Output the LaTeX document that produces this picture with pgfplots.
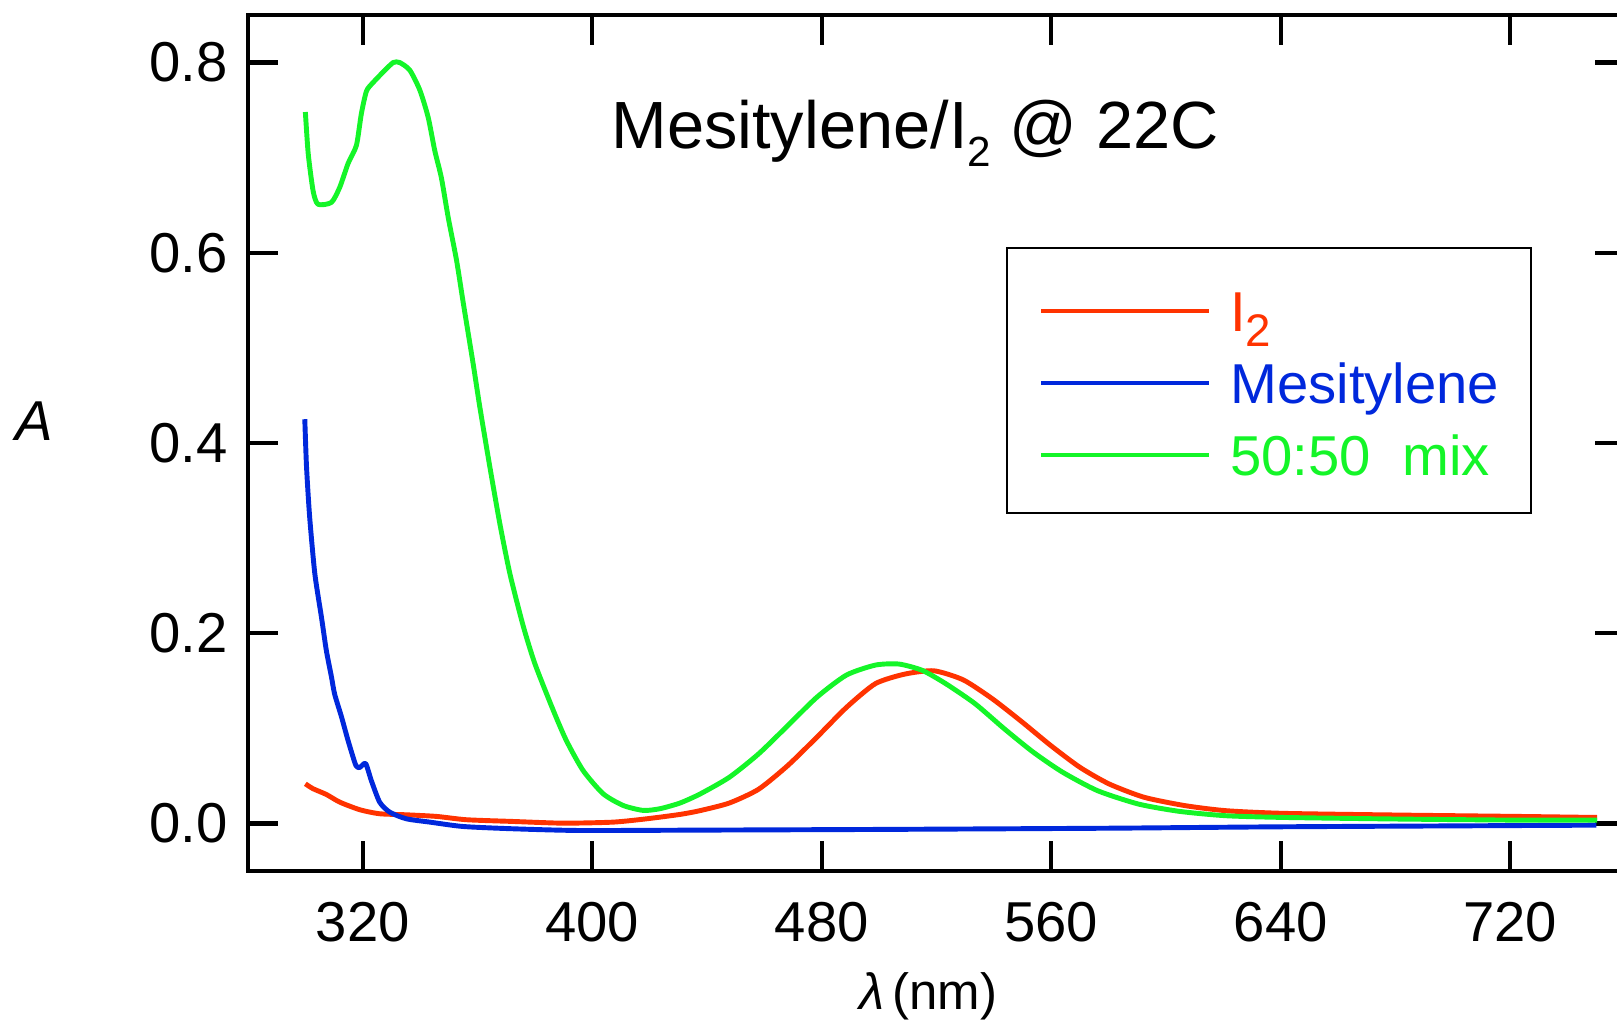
\documentclass[border=0pt]{standalone}
\usepackage{fontspec}
\setmainfont{Liberation Sans}
\usepackage{pgfplots}
\pgfplotsset{compat=1.18}

\definecolor{cI}{RGB}{255,51,0}
\definecolor{cM}{RGB}{0,40,220}
\definecolor{cX}{RGB}{20,245,40}

\begin{document}
\begin{tikzpicture}
\useasboundingbox (-2.48,-1.53) rectangle (13.69,8.71);
\begin{axis}[
    at={(0,0)}, anchor=south west,
    scale only axis, width=13.77cm, height=8.56cm,
    xmin=280, xmax=760, ymin=-0.05, ymax=0.85,
    xtick={320,400,480,560,640,720},
    ytick={0,0.2,0.4,0.6,0.8},
    tick align=inside, tick pos=both,
    major tick length=0.3cm,
    axis line style={line width=1.2pt},
    major tick style={line width=1.2pt, black},
    tick label style={font=\fontsize{16}{19}\selectfont},
    /pgf/number format/assume math mode=true,
    y tick label style={/pgf/number format/fixed, /pgf/number format/fixed zerofill,
        /pgf/number format/precision=1, xshift=-0.08cm},
    x tick label style={yshift=-0.19cm},
    xlabel={{\itshape λ}\,(nm)},
    every axis x label/.style={at={(axis description cs:0.494,0)}, anchor=center,
        yshift=-1.257cm, font=\fontsize{14.5}{17}\selectfont},
    ylabel={\textit{A}},
    every axis y label/.style={at={(axis description cs:0,0.526)}, anchor=center,
        xshift=-2.14cm, font=\fontsize{16}{19}\selectfont},
    every axis plot/.append style={line width=1.4pt, line join=round, smooth, tension=0.4},
    legend image code/.code={\draw[#1, line width=1.2pt] (0cm,0.2cm) -- (1.68cm,0.2cm);},
    legend cell align=left,
    legend style={at={(axis description cs:0.5505,0.729)}, anchor=north west,
        draw=black, line width=0.6pt, inner xsep=0.32cm, inner ysep=0.38cm,
        column sep=0.19cm, row sep=0.27cm,
        font=\fontsize{16}{19}\selectfont,
        nodes={inner sep=0pt, anchor=base west, text height=0.45cm, text depth=0cm}},
]

% I2
\addplot[cI] coordinates {
    (300,0.0417) (302.7,0.0365) (307.3,0.0305) (312.0,0.0224) (319.0,0.0144)
    (325.9,0.0102) (335.2,0.0091) (345.7,0.0074) (356.2,0.0039) (372.4,0.0021)
    (389.9,0.0003) (407.3,0.0014) (419.0,0.0049) (430.6,0.0095) (437.6,0.0135)
    (447.8,0.0215) (458.0,0.036) (468.2,0.061) (478.4,0.091) (488.6,0.122)
    (498.7,0.147) (508.9,0.157) (519.1,0.1605) (529.3,0.151) (539.5,0.131)
    (549.7,0.107) (559.8,0.082) (570.0,0.059) (580.2,0.0415) (592.4,0.0275)
    (606.7,0.0187) (621.0,0.0134) (641.3,0.0106) (682.1,0.0088) (722.8,0.0074)
    (750.3,0.0063)
};
\addlegendentry{\textcolor{cI}{I\raisebox{-4.5pt}{\fontsize{13}{15}\selectfont 2}}}

% Mesitylene
\addplot[cM] coordinates {
    (299.8,0.425) (300.4,0.375) (301.5,0.322) (303.3,0.2625) (305.6,0.217)
    (307.3,0.182) (309.1,0.154) (310.2,0.136) (312.6,0.112) (314.9,0.087)
    (317.6,0.061) (319.0,0.059) (321.0,0.063) (323.0,0.045) (325.9,0.0224)
    (329.4,0.0119) (335.2,0.0049) (343.4,0.0014) (355.0,-0.0032) (372.4,-0.0056)
    (395.7,-0.0074) (437.6,-0.007) (498.7,-0.0063) (580,-0.005) (641,-0.0035)
    (750,-0.0018)
};
\addlegendentry{\textcolor{cM}{Mesitylene}}

% 50:50 mix
\addplot[cX] coordinates {
    (300,0.748) (301.0,0.704) (302.7,0.665) (304.4,0.651) (309.1,0.653)
    (312.0,0.669) (314.9,0.694) (317.8,0.713) (319.5,0.746) (321.3,0.770)
    (323.6,0.779) (327.1,0.790) (330.6,0.800) (332.9,0.800) (336.4,0.792)
    (339.9,0.771) (342.8,0.7425) (345.1,0.7075) (347.4,0.679) (349.8,0.637)
    (352.7,0.592) (355.0,0.548) (358.5,0.483) (360.8,0.438) (364.3,0.375)
    (367.8,0.315) (371.3,0.2625) (375.9,0.208) (380.0,0.168)
    (386.4,0.119) (391.0,0.087) (396.8,0.0557) (403.8,0.0312) (410.8,0.0189)
    (417.8,0.0137) (423.6,0.0155) (430.6,0.0215) (437.6,0.031) (447.8,0.0486)
    (458.0,0.0732) (468.2,0.103) (478.4,0.133) (488.6,0.156) (498.7,0.1665)
    (506.9,0.1676) (515.0,0.161) (523.2,0.147) (533.4,0.126) (543.6,0.0996)
    (553.7,0.075) (563.9,0.054) (576.1,0.0345) (590.4,0.0204) (604.7,0.0127)
    (621.0,0.0081) (641.3,0.0063) (682.1,0.0046) (722.8,0.0035) (750.3,0.0035)
};
\addlegendentry{\textcolor{cX}{50:50\ \ mix}}

\node[anchor=base, font=\fontsize{19}{23}\selectfont] at (axis description cs:0.4844,0.8435)
    {Mesitylene/I\raisebox{-5pt}{\fontsize{12}{14}\selectfont 2} @ 22C};
\end{axis}
\end{tikzpicture}
\end{document}
